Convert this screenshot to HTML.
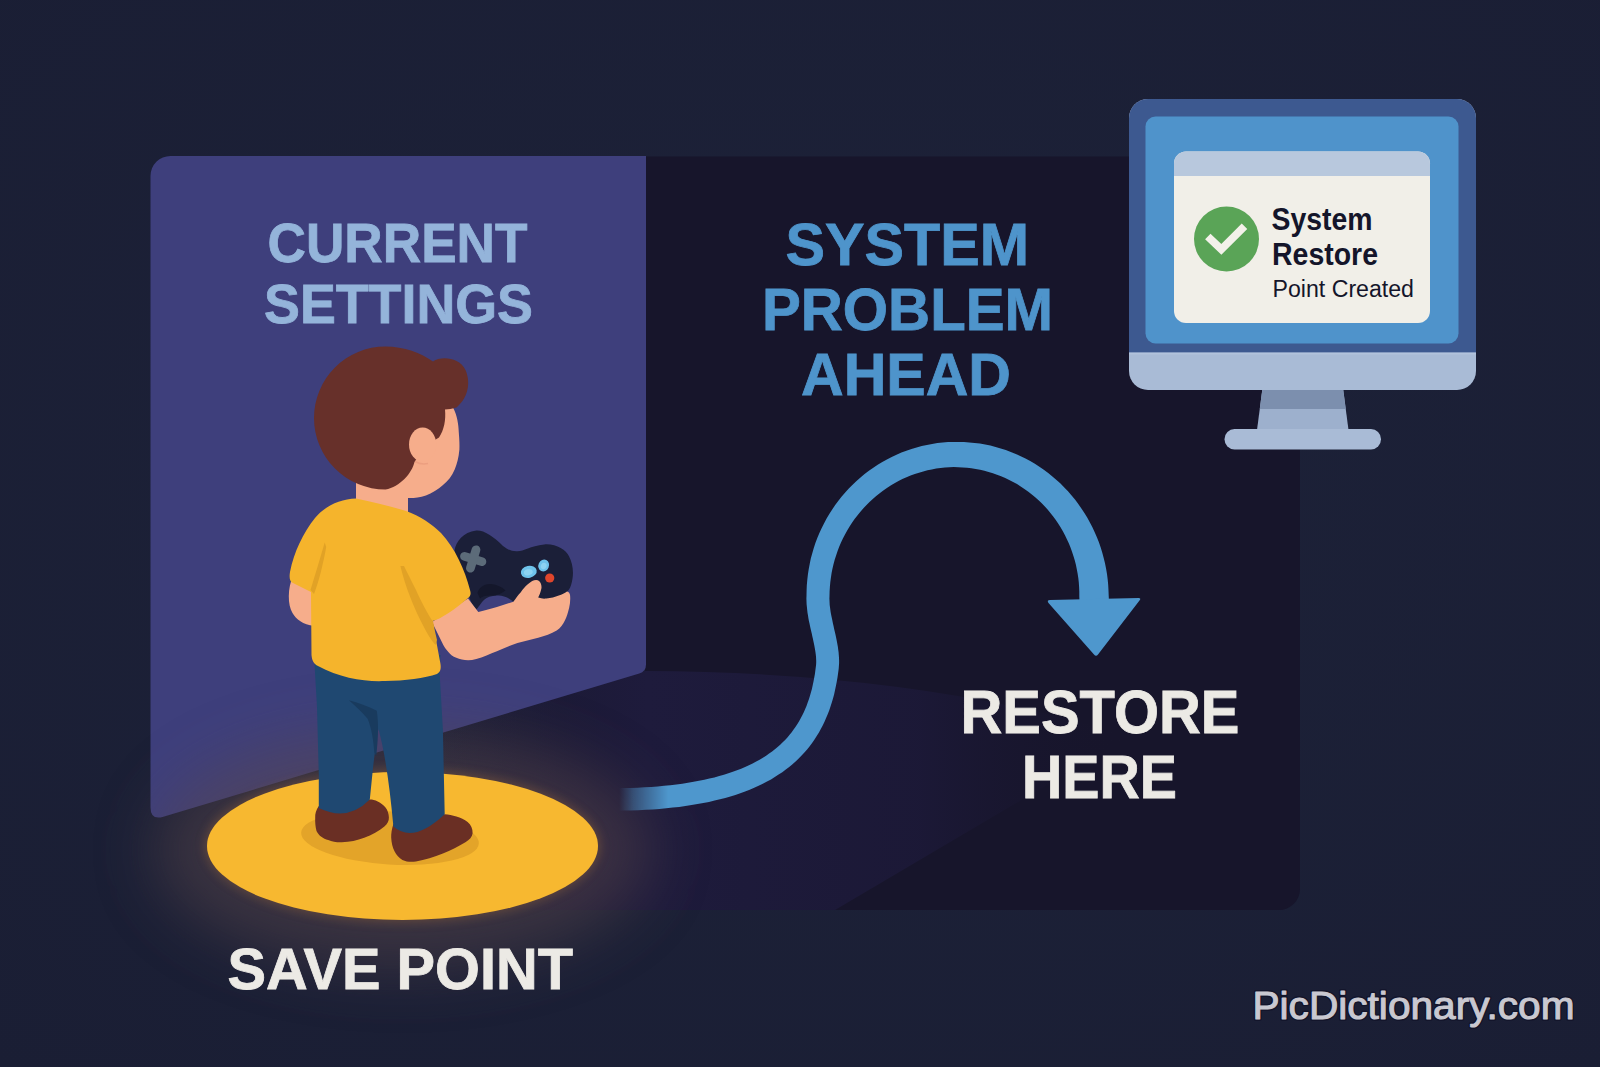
<!DOCTYPE html>
<html lang="en">
<head>
<meta charset="utf-8">
<title>System Restore Point</title>
<style>
html,body{margin:0;padding:0;background:#1c2037;}
body{width:1600px;height:1067px;overflow:hidden;font-family:"Liberation Sans",sans-serif;}
svg{display:block;}
text{font-family:"Liberation Sans",sans-serif;}
</style>
</head>
<body>
<svg width="1600" height="1067" viewBox="0 0 1600 1067">
<defs>
  <radialGradient id="bgv" cx="50%" cy="45%" r="75%">
    <stop offset="0" stop-color="#1d2239"/>
    <stop offset="1" stop-color="#1a1e34"/>
  </radialGradient>
  <radialGradient id="glow" cx="50%" cy="50%" r="50%">
    <stop offset="0.70" stop-color="#8a6a4a" stop-opacity="0.55"/>
    <stop offset="0.85" stop-color="#6a5040" stop-opacity="0.25"/>
    <stop offset="1" stop-color="#3a3040" stop-opacity="0"/>
  </radialGradient>
  <linearGradient id="floorL" x1="430" y1="0" x2="660" y2="0" gradientUnits="userSpaceOnUse">
    <stop offset="0" stop-color="#17152b" stop-opacity="0"/>
    <stop offset="1" stop-color="#17152b" stop-opacity="1"/>
  </linearGradient>
  <linearGradient id="strip" x1="420" y1="0" x2="1130" y2="0" gradientUnits="userSpaceOnUse">
    <stop offset="0" stop-color="#1e1b3c" stop-opacity="0"/>
    <stop offset="0.32" stop-color="#1e1b3c" stop-opacity="1"/>
    <stop offset="0.7" stop-color="#1c1938" stop-opacity="0.9"/>
    <stop offset="1" stop-color="#17152b" stop-opacity="0"/>
  </linearGradient>
  <filter id="blur30" x="-50%" y="-80%" width="200%" height="260%"><feGaussianBlur stdDeviation="30"/></filter>
  <filter id="blur6" x="-20%" y="-40%" width="140%" height="180%"><feGaussianBlur stdDeviation="4.500"/></filter>
  <linearGradient id="tail" x1="619" y1="0" x2="668" y2="0" gradientUnits="userSpaceOnUse">
    <stop offset="0" stop-color="#fff" stop-opacity="0"/>
    <stop offset="0.3" stop-color="#fff" stop-opacity="0.4"/>
    <stop offset="1" stop-color="#fff" stop-opacity="1"/>
  </linearGradient>
  <mask id="tailmask" maskUnits="userSpaceOnUse" x="0" y="0" width="1600" height="1067">
    <rect x="0" y="0" width="1600" height="1067" fill="url(#tail)"/>
  </mask>
</defs>

<!-- background -->
<rect id="bg" width="1600" height="1067" fill="url(#bgv)"/>

<!-- dark room panel -->
<path id="room" d="M645 156.500 H1300 V889 a21 21 0 0 1 -21 21 H645 Z" fill="#17152b"/>
<path id="roomfade" d="M151 820 L645 671 H646 V910 H151 Z" fill="url(#floorL)"/>
<!-- floor light strip -->
<path id="floorstrip" d="M645 671 Q920 672 1130 736 L835 910 H151 V820 Z" fill="url(#strip)"/>
<!-- purple wall -->
<path id="wall" d="M170.500 156 H646 V664.500 Q646 671.500 639.300 673.500 L163.400 816.750 Q150.500 820.500 150.500 807.500 V176 a20 20 0 0 1 20 -20 Z" fill="#3e3f7c"/>

<!-- headings -->
<g font-weight="700" text-anchor="start">
  <g fill="#94b4da" stroke="#94b4da" stroke-width="0.800">
    <text x="267.500" y="262" font-size="55.500" textLength="260" lengthAdjust="spacingAndGlyphs">CURRENT</text>
    <text x="264" y="323" font-size="55.500" textLength="269" lengthAdjust="spacingAndGlyphs">SETTINGS</text>
  </g>
  <g fill="#4e94cb" stroke="#4e94cb" stroke-width="0.800">
    <text x="785.500" y="264.500" font-size="59.500" textLength="243.500" lengthAdjust="spacingAndGlyphs">SYSTEM</text>
    <text x="762" y="329.500" font-size="59.500" textLength="291" lengthAdjust="spacingAndGlyphs">PROBLEM</text>
    <text x="801" y="395" font-size="59.500" textLength="210" lengthAdjust="spacingAndGlyphs">AHEAD</text>
  </g>
  <g fill="#eceae5" stroke="#eceae5" stroke-width="0.800">
    <text x="960.500" y="732.500" font-size="61" textLength="279" lengthAdjust="spacingAndGlyphs">RESTORE</text>
    <text x="1022" y="797.500" font-size="61" textLength="155" lengthAdjust="spacingAndGlyphs">HERE</text>
  </g>
</g>

<!-- save point disc -->
<ellipse cx="402.500" cy="850" rx="248" ry="118" fill="#5a464c" opacity="0.5" filter="url(#blur30)"/>
<ellipse cx="402.500" cy="846" rx="198.500" ry="77.500" fill="#7a543a" opacity="0.5" filter="url(#blur6)"/>
<ellipse id="disc" cx="402.500" cy="846" rx="195.500" ry="74" fill="#f7b830"/>
<ellipse cx="390" cy="838" rx="89" ry="26.500" transform="rotate(3.500 390 838)" fill="#e3a429"/>

<text x="227.500" y="989" font-size="57.500" font-weight="700" fill="#eceae5" stroke="#eceae5" stroke-width="0.800" textLength="345.500" lengthAdjust="spacingAndGlyphs">SAVE POINT</text>
<!-- BOY -->
<g id="boy">
  <!-- shoes -->
  <path d="M318.800 806 C316 810 315 814 315.200 817.600 C315 823 315.500 827 316.500 831 C319 836 323 838.500 328.200 840 C332 841.500 337 842.500 341.700 842.300 C350 842 357 840.500 364.200 837.800 C372 835 379 831 384.400 826.600 C387.500 824 389 821 388.900 817.600 C388.800 813.500 387.500 810 385.500 807.500 C383.500 805 381 802.800 377.700 801.400 C375 800.200 372.500 799.600 369.800 799.600 Z" fill="#6a2f24"/>
  <path d="M393.400 824 C391.800 829 391 834 391.200 837.800 C391.500 843 392.500 847.500 394.500 851.300 C396.500 855 399 858 402.400 859.900 C406.500 861.800 411 862 415.900 861.400 C425 860.200 434 857 442.900 853.600 C451 850.500 458.500 846.500 465.400 842.300 C469.500 839.800 472.300 837 472.600 833.300 C472.800 829 471 825 467.600 822.100 C464.500 819.500 460.500 817.500 456.400 816.500 C452.500 815.300 448.500 814.500 444.700 814.200 Z" fill="#6a2f24"/>
  <!-- pants -->
  <path d="M314 655 L317 707 L318.800 775 L318.800 808 Q347.700 822.200 369.800 799.600 L373.200 766 L376.600 739 L378.500 729 Q387.500 762 393.400 826.600 Q413 844 444.700 814.200 L442.900 730 L439.500 671 L440.500 655 Z" fill="#1f4871"/>
  <path d="M348.900 700.300 C358 703 368 706 376.800 710.800 C378.500 722 378.500 738 376.200 756 L374.300 752.400 C373.500 740 371.500 728 367.600 718.700 C362 712 355 706 348.900 700.300 Z" fill="#193b5e"/>
  <!-- neck + face -->
  <path d="M356 470 H408 V512 H356 Z" fill="#f6ad8b"/>
  <path d="M440 402 L453.400 408.200 C457 415 458.500 424 458.800 432.500 C459.400 440 459.600 445 459.400 449.500 C458.600 458 457 464 454.800 469.200 C452 476 448 481 443 484.900 C438 489.500 432 493 425.900 495.400 C420 497.300 415 498 409.500 498 L375 498 L375 420 Z" fill="#f6ad8b"/>
  <!-- hair -->
  <path d="M385.500 489.500 A71.500 71.500 0 0 1 314 418 A71.500 71.500 0 0 1 385.500 346.500 C404 346.500 421 353 433 361.500 C441 356 459 357 465.500 370 C470 380 470 396 456.500 407.500 Q450 409.500 445 409.500 C446 420 444 430 439 437.500 L425 446 L414.500 462 C412 473 400 487 385.500 489.500 Z" fill="#67302a"/>
  <!-- ear -->
  <ellipse cx="422.600" cy="444.500" rx="13.600" ry="17" fill="#f6ad8b"/>
  <path d="M415 461.500 Q421 465 428 463.500" fill="none" stroke="#ec9f80" stroke-width="1.500"/>
  <!-- left arm -->
  <path d="M293 576 C287.500 588 287.500 605 292.500 613 C296 619.500 303 624.500 314 625.800 L314 585 Z" fill="#f6ad8b"/>
  <!-- controller -->
  <path d="M454.600 550 C456 542 463 532 476.300 530.500 C484 530 493 536 503 546 C508 550 512 551.500 517.500 551.200 C524 551 530 546 544.300 544.400 C556 543.500 566 550 569 556.300 C573 564 574.500 574 571 585.200 C569 591 565 596 548.500 600 L513.400 601.700 C508 597 502 595 497 595.500 C491 596 487 597 484.500 599.600 C480 604 479 607 476.300 609.500 C474 607 472 604 471 601.700 L461.800 579 C458 572 454 562 454.600 550 Z" fill="#1b1f38"/>
  <path d="M477.500 593 C479 586.500 486 583.500 491 584 C497 584.500 502 587 505.500 590.500 C501 594 496 596 490 595.500 C485 595.500 482 596.500 480 598.500 Z" fill="#14172b"/>
  <!-- dpad -->
  <g transform="translate(473.200 559) rotate(17)" fill="#5c6b79">
    <rect x="-13.500" y="-4.400" width="27" height="8.800" rx="4.400"/>
    <rect x="-4.400" y="-14" width="8.800" height="28" rx="4.400"/>
  </g>
  <!-- buttons -->
  <ellipse cx="528.800" cy="571.800" rx="8" ry="6" transform="rotate(-12 528.800 571.800)" fill="#6fc3eb"/>
  <ellipse cx="528.300" cy="572.300" rx="4.500" ry="3" transform="rotate(-12 528.300 572.300)" fill="#8dd3f2"/>
  <ellipse cx="543.700" cy="565.500" rx="5.300" ry="6" transform="rotate(25 543.700 565.500)" fill="#6fc3eb"/>
  <ellipse cx="543.700" cy="566" rx="2.800" ry="3.300" transform="rotate(25 543.700 566)" fill="#8dd3f2"/>
  <circle cx="549.700" cy="578" r="4.600" fill="#e0462c"/>
  <!-- right arm + hand -->
  <path d="M468 598.600 L478.300 612 C485 610 491 608.500 496.900 606.900 L513.400 601.700 C516 598 518 595 520.600 592.400 C523 589 525 586.500 527.800 584.200 C531 581.500 533.500 580 536.100 580 C538.500 580 540 581.500 540.600 583.100 C541.500 585 541.800 587 541.200 589.300 C540.500 592.500 539.500 595 538.200 597.600 C541 598.600 543.500 599 546.400 598.600 C551 598 555 597 558.800 595.500 C562 594.300 564.500 593 567 591.400 C569 592 570 593.500 570.100 595.500 C570.500 600 570 604 569.100 607.900 C568 612.500 566.800 616.500 565 620.300 C563 624.500 560.500 628 556.700 630.600 C551 634 545 636 538.200 637.800 L517.500 643 C510 645.500 503.500 648.500 496.900 651.200 C490 654 483 657 476.300 659 C471 660.500 466.500 660.500 461.800 659.500 C458 658.500 454.500 657.500 451.500 655.300 C448.500 652.500 445.500 649 443.300 645 L432 622 Z" fill="#f6ad8b"/>
  <!-- shirt -->
  <path d="M356 498.500 C340 499 325 506 315 518 C303 533 294 552 290 572 C289 578 290 581 292 582.500 L311 592 L311.500 655 C312 661 314 664 318 666 C340 678 365 682 385 681 C405 681 425 678 437 674 C441 672 441 668 440.500 664 L432.500 621 C440 619.500 455 609.500 468 598 C471 596 471 593 470 590 C465 570 455 548 441 533 C432 524 420 516 406 511 C390 506 372 502 356 498.500 Z" fill="#f5b42c"/>
  <path d="M324.700 542.500 L326.200 547 C323 565 319 581 314 594 L310.500 590 C316 572 320.500 557 324.700 542.500 Z" fill="#e1a226"/>
  <path d="M400.400 566 C405 586 414 608 422.600 624.400 C427 633 431 640 435.500 645 L437 640 C435.500 634 434.200 628 433.200 622 C427 613 421 601 416 590 C411 580 407 572 404 566 Z" fill="#e1a226"/>
</g>

<!-- arrow -->
<g id="arrow">
  <path d="M616.2 810.7 L623.7 810.6 L631.2 810.5 L638.5 810.2 L645.7 809.8 L652.7 809.4 L659.5 808.9 L666.2 808.3 L672.8 807.6 L679.2 806.9 L685.4 806.0 L691.6 805.1 L697.5 804.1 L703.3 803.0 L709.0 801.9 L714.6 800.6 L720.0 799.3 L725.3 797.9 L730.4 796.4 L735.4 794.9 L740.3 793.2 L745.1 791.5 L749.7 789.7 L754.2 787.8 L758.6 785.8 L762.8 783.7 L767.0 781.6 L771.0 779.4 L774.8 777.0 L778.6 774.6 L782.3 772.2 L785.8 769.6 L789.2 767.0 L792.5 764.2 L795.6 761.4 L798.7 758.5 L801.6 755.5 L804.4 752.5 L807.1 749.4 L809.7 746.2 L812.1 742.9 L814.5 739.6 L816.7 736.1 L818.8 732.7 L820.8 729.1 L822.7 725.5 L824.5 721.8 L826.1 718.1 L827.7 714.3 L829.2 710.4 L830.5 706.5 L831.8 702.5 L833.0 698.5 L834.1 694.4 L835.0 690.3 L835.9 686.1 L836.7 681.9 L837.5 677.6 L838.1 673.2 L838.7 668.8 L838.9 666.0 L839.1 663.2 L839.1 660.4 L839.0 657.7 L838.8 654.9 L838.6 652.2 L838.2 649.5 L837.9 646.9 L837.4 644.2 L836.9 641.6 L836.4 639.0 L835.9 636.4 L835.3 633.8 L834.7 631.3 L834.1 628.7 L833.6 626.2 L833.0 623.7 L832.5 621.3 L832.0 618.8 L831.5 616.4 L831.0 614.1 L830.6 611.7 L830.3 609.4 L830.0 607.2 L829.7 604.9 L829.6 602.8 L829.5 600.6 L829.4 598.5 L829.5 596.2 L829.6 591.4 L829.9 586.8 L830.3 582.2 L830.9 577.7 L831.6 573.1 L832.5 568.6 L833.5 564.2 L834.7 559.8 L836.1 555.4 L837.6 551.1 L839.2 546.8 L841.0 542.6 L842.9 538.5 L845.0 534.4 L847.2 530.4 L849.6 526.5 L852.0 522.7 L854.6 519.0 L857.4 515.4 L860.2 511.9 L863.2 508.5 L866.3 505.2 L869.5 502.0 L872.8 498.9 L876.2 496.0 L879.7 493.2 L883.3 490.5 L886.9 488.0 L890.7 485.5 L894.5 483.3 L898.5 481.1 L902.4 479.1 L906.5 477.3 L910.6 475.6 L914.8 474.1 L919.0 472.7 L923.2 471.4 L927.5 470.3 L931.8 469.4 L936.2 468.6 L940.6 468.0 L945.0 467.6 L949.4 467.3 L953.8 467.1 L958.2 467.2 L962.6 467.4 L967.0 467.7 L971.4 468.3 L975.7 468.9 L980.1 469.8 L984.4 470.8 L988.6 471.9 L992.9 473.2 L997.0 474.7 L1001.1 476.3 L1005.2 478.0 L1009.2 479.9 L1013.1 482.0 L1017.0 484.1 L1020.7 486.5 L1024.4 488.9 L1028.0 491.5 L1031.5 494.2 L1034.9 497.1 L1038.3 500.0 L1041.5 503.1 L1044.6 506.3 L1047.6 509.6 L1050.4 513.0 L1053.2 516.5 L1055.8 520.1 L1058.3 523.8 L1060.7 527.6 L1063.0 531.5 L1065.1 535.4 L1067.0 539.4 L1068.9 543.5 L1070.6 547.7 L1072.1 551.9 L1073.5 556.2 L1074.8 560.5 L1075.9 564.8 L1076.8 569.2 L1077.6 573.6 L1078.3 578.1 L1078.8 582.5 L1079.1 587.0 L1079.3 591.5 L1079.3 596.5 L1079.6 603.6 L1109.0 602.4 L1108.7 595.5 L1108.5 590.5 L1108.2 585.0 L1107.7 579.5 L1107.0 574.1 L1106.1 568.7 L1105.0 563.3 L1103.7 558.0 L1102.3 552.7 L1100.7 547.4 L1098.9 542.3 L1096.9 537.2 L1094.7 532.2 L1092.4 527.2 L1089.9 522.4 L1087.2 517.6 L1084.4 512.9 L1081.4 508.4 L1078.3 503.9 L1075.0 499.6 L1071.6 495.4 L1068.0 491.3 L1064.3 487.4 L1060.5 483.6 L1056.5 479.9 L1052.4 476.4 L1048.2 473.0 L1043.8 469.8 L1039.4 466.7 L1034.9 463.8 L1030.2 461.1 L1025.5 458.6 L1020.7 456.2 L1015.8 454.0 L1010.8 451.9 L1005.8 450.1 L1000.7 448.4 L995.6 446.9 L990.4 445.6 L985.2 444.5 L979.9 443.6 L974.6 442.9 L969.3 442.4 L964.0 442.0 L958.7 441.9 L953.3 441.9 L948.0 442.1 L942.7 442.5 L937.4 443.1 L932.1 443.9 L926.9 444.9 L921.7 446.1 L916.6 447.4 L911.5 449.0 L906.4 450.7 L901.4 452.6 L896.5 454.7 L891.7 457.0 L886.9 459.4 L882.3 462.0 L877.7 464.8 L873.3 467.7 L868.9 470.8 L864.6 474.0 L860.5 477.4 L856.5 481.0 L852.6 484.7 L848.8 488.5 L845.2 492.4 L841.7 496.5 L838.4 500.7 L835.2 505.0 L832.2 509.5 L829.3 514.0 L826.6 518.6 L824.0 523.4 L821.6 528.2 L819.4 533.1 L817.3 538.1 L815.4 543.1 L813.7 548.2 L812.2 553.4 L810.8 558.6 L809.7 563.9 L808.7 569.2 L807.9 574.5 L807.3 579.8 L806.8 585.2 L806.6 590.6 L806.5 595.8 L806.4 598.4 L806.5 601.4 L806.6 604.2 L806.9 607.1 L807.2 609.9 L807.5 612.7 L808.0 615.4 L808.4 618.2 L808.9 620.9 L809.5 623.5 L810.0 626.1 L810.6 628.7 L811.2 631.3 L811.8 633.8 L812.3 636.3 L812.9 638.8 L813.4 641.2 L813.9 643.6 L814.4 645.9 L814.8 648.2 L815.2 650.4 L815.5 652.6 L815.8 654.7 L816.0 656.8 L816.1 658.8 L816.2 660.7 L816.2 662.6 L816.1 664.4 L815.9 666.2 L815.4 670.1 L814.9 674.0 L814.2 677.8 L813.5 681.6 L812.7 685.3 L811.9 688.9 L810.9 692.4 L809.9 695.9 L808.9 699.3 L807.7 702.6 L806.5 705.9 L805.2 709.1 L803.8 712.2 L802.3 715.3 L800.7 718.2 L799.1 721.2 L797.4 724.0 L795.6 726.8 L793.6 729.5 L791.7 732.2 L789.6 734.8 L787.4 737.4 L785.1 739.9 L782.7 742.3 L780.2 744.7 L777.6 747.0 L774.9 749.2 L772.1 751.4 L769.1 753.6 L766.1 755.7 L762.9 757.7 L759.6 759.7 L756.2 761.6 L752.6 763.5 L748.9 765.3 L745.1 767.0 L741.1 768.7 L737.0 770.3 L732.8 771.8 L728.4 773.3 L723.9 774.7 L719.2 776.1 L714.4 777.4 L709.4 778.6 L704.3 779.8 L699.0 780.8 L693.6 781.8 L688.0 782.8 L682.3 783.7 L676.4 784.5 L670.3 785.2 L664.1 785.8 L657.7 786.4 L651.1 786.9 L644.4 787.3 L637.6 787.7 L630.5 787.9 L623.3 788.1 L615.8 788.3 Z" fill="#4e97cd" mask="url(#tailmask)"/>
  <path d="M1050 600 L1138.500 598 Q1141.500 598 1139.500 600.500 L1098 654.500 Q1096 657 1094 654.500 L1048.500 603 Q1046.500 600 1050 600 Z" fill="#4e97cd"/>
</g>

<!-- monitor placeholder -->
<g id="monitor">
  <!-- stand -->
  <path d="M1262.500 388 H1343 L1348.500 430 H1257 Z" fill="#9db0cd"/>
  <path d="M1262.500 388 H1343 L1345.600 409 H1259.800 Z" fill="#7c8fae"/>
  <rect x="1224.500" y="429" width="156.500" height="20.500" rx="10" ry="10" fill="#a9bbd6"/>
  <!-- body -->
  <rect x="1129" y="99" width="347" height="291" rx="19" ry="19" fill="#a9bbd6"/>
  <path d="M1148 99 H1457 a19 19 0 0 1 19 19 V352.500 H1129 V118 a19 19 0 0 1 19 -19 Z" fill="#3d5990"/>
  <rect x="1129" y="352.500" width="347" height="2" fill="#b9c8df" opacity="0.6"/>
  <!-- screen -->
  <rect x="1145.500" y="116.500" width="313" height="227" rx="10" ry="10" fill="#4f93cb"/>
  <!-- dialog -->
  <rect x="1174" y="151.500" width="256" height="171.500" rx="12" ry="12" fill="#f1efe8"/>
  <path d="M1186 151.500 H1418 a12 12 0 0 1 12 12 V176 H1174 V163.500 a12 12 0 0 1 12 -12 Z" fill="#b8c8dd"/>
  <!-- check -->
  <circle cx="1226.500" cy="239" r="32.500" fill="#5aa457"/>
  <path d="M1207.800 236.500 L1221.300 249.400 L1244.500 226.200" fill="none" stroke="#f3f1ea" stroke-width="7.800" stroke-linejoin="miter" stroke-linecap="butt"/>
  <g fill="#14152a">
    <text x="1271.500" y="230" font-size="30.500" font-weight="700" textLength="101" lengthAdjust="spacingAndGlyphs">System</text>
    <text x="1272" y="265.200" font-size="30.500" font-weight="700" textLength="106" lengthAdjust="spacingAndGlyphs">Restore</text>
    <text x="1272.500" y="296.700" font-size="23.500" textLength="141.500" lengthAdjust="spacingAndGlyphs">Point Created</text>
  </g>
</g>

<!-- watermark -->
<g font-size="39.500">
  <text x="1252.500" y="1018.500" textLength="322" lengthAdjust="spacingAndGlyphs" fill="#12142a" stroke="#12142a" stroke-width="4" stroke-linejoin="round" opacity="0.85">PicDictionary.com</text>
  <text x="1252.500" y="1018.500" textLength="322" lengthAdjust="spacingAndGlyphs" fill="#c9c8d0" stroke="#c9c8d0" stroke-width="1.100" stroke-linejoin="round">PicDictionary.com</text>
</g>
</svg>
</body>
</html>
